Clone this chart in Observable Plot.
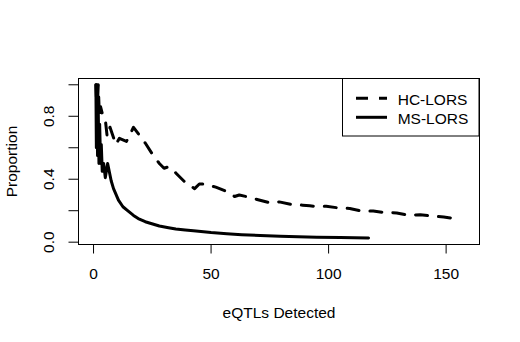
<!DOCTYPE html>
<html>
<head>
<meta charset="utf-8">
<script src="https://cdn.jsdelivr.net/npm/d3@7"></script>
<script src="https://cdn.jsdelivr.net/npm/@observablehq/plot@0.6"></script>
<style>
  html, body { margin: 0; padding: 0; background: #fff; }
  #chart { width: 520px; height: 342px; }
</style>
</head>
<body>
<div id="chart"></div>
<script>
// ---- data ----
const seriesNames = ["HC-LORS", "MS-LORS"];

const hcX = [1, 1.5, 2, 2.5, 3, 4, 5, 5.8, 7, 9.5, 11, 14, 17, 20, 22, 25, 28, 30, 32, 35, 39, 43, 45, 47, 52, 57, 60, 62, 65, 70, 75, 79, 84, 89, 92, 94, 99, 104, 109, 114, 119, 124, 129, 134, 139, 144, 149, 155];
const hcY = [1.0, 0.82, 1.0, 0.8, 0.86, 0.8, 0.78, 0.67, 0.73, 0.62, 0.66, 0.64, 0.73, 0.67, 0.63, 0.56, 0.5, 0.47, 0.48, 0.44, 0.38, 0.34, 0.37, 0.37, 0.35, 0.32, 0.29, 0.3, 0.29, 0.27, 0.25, 0.256, 0.24, 0.235, 0.232, 0.228, 0.228, 0.218, 0.214, 0.198, 0.198, 0.188, 0.186, 0.171, 0.175, 0.166, 0.16, 0.148];

const msX = [1, 1.2, 1.4, 1.7, 2, 2.3, 2.6, 3, 3.3, 3.7, 4.3, 5, 6, 7.5, 8.5, 10.6, 12.5, 14.5, 17, 19, 22, 24.8, 28, 31.9, 35, 39, 42.5, 50, 56.7, 63, 70.9, 79.4, 87, 95, 105, 117];
const msY = [1.0, 0.6, 1.0, 0.55, 0.85, 0.5, 0.75, 0.5, 0.62, 0.45, 0.5, 0.41, 0.5, 0.39, 0.34, 0.267, 0.225, 0.2, 0.17, 0.15, 0.13, 0.117, 0.103, 0.092, 0.084, 0.077, 0.072, 0.061, 0.054, 0.048, 0.043, 0.038, 0.034, 0.031, 0.029, 0.027];

const xTicks = [0, 50, 100, 150];
const yTicks = [0, 0.2, 0.4, 0.6, 0.8, 1.0];
const yLabelTicks = [0, 0.4, 0.8];
const xTitle = "eQTLs Detected";
const yTitle = "Proportion";

// ---- build tables ----
const hc = hcX.map((x, i) => ({x, y: hcY[i]}));
const ms = msX.map((x, i) => ({x, y: msY[i]}));

const FONT = "'Liberation Sans', Arial, sans-serif";
const FS = 15.5;

const chart = Plot.plot({
  width: 520,
  height: 342,
  marginLeft: 78,
  marginRight: 41,
  marginTop: 78,
  marginBottom: 98,
  x: {domain: [-6.4, 164.2]},
  y: {domain: [-0.0147, 1.04]},
  style: {fontFamily: FONT, fontSize: FS + "px", color: "#000", background: "#fff"},
  marks: [
    Plot.axisX({ticks: xTicks, tickSize: 9.5, tickFormat: () => "", label: null, stroke: "#000", strokeWidth: 1}),
    Plot.axisY({ticks: yTicks, tickSize: 9.5, tickFormat: () => "", label: null, stroke: "#000", strokeWidth: 1}),
    Plot.text(xTicks, {x: d => d, text: d => String(d), frameAnchor: "bottom", dy: 29.7, lineAnchor: "middle", fill: "#000", fontSize: FS}),
    Plot.text(yLabelTicks, {y: d => d, text: d => d.toFixed(1), frameAnchor: "left", dx: -29, rotate: -90, textAnchor: "middle", lineAnchor: "middle", fill: "#000", fontSize: FS}),
    Plot.text([xTitle], {text: d => d, frameAnchor: "bottom", dy: 68.3, lineAnchor: "middle", fill: "#000", fontSize: FS}),
    Plot.text([yTitle], {text: d => d, frameAnchor: "left", dx: -66, rotate: -90, textAnchor: "middle", lineAnchor: "middle", fill: "#000", fontSize: FS}),
    Plot.line(hc, {x: "x", y: "y", stroke: "#000", strokeWidth: 3, strokeDasharray: "12,11", strokeLinejoin: "round"}),
    Plot.line(ms, {x: "x", y: "y", stroke: "#000", strokeWidth: 3, strokeLinejoin: "round", strokeLinecap: "round"}),
    Plot.frame({stroke: "#000", strokeWidth: 1})
  ]
});

document.getElementById("chart").appendChild(chart);

// ---- legend (top-right, inside the plot box) ----
const svgSel = d3.select(chart);
const frameRight = 520 - 41, frameTop = 78;
const lg = svgSel.append("g").attr("font-family", FONT).attr("font-size", FS + "px").attr("text-anchor", "start");
lg.append("rect")
  .attr("x", 342.5).attr("y", frameTop + 0.5)
  .attr("width", frameRight - 342.5).attr("height", 57.5)
  .attr("fill", "#fff").attr("stroke", "#000").attr("stroke-width", 1);
const legendRows = [
  {name: seriesNames[0], dash: "12,11", y: 98.3, base: 105},
  {name: seriesNames[1], dash: null, y: 117.3, base: 124}
];
legendRows.forEach(r => {
  const l = lg.append("line")
    .attr("x1", 356).attr("x2", 387).attr("y1", r.y).attr("y2", r.y)
    .attr("stroke", "#000").attr("stroke-width", 3);
  if (r.dash) l.attr("stroke-dasharray", r.dash);
  lg.append("text").attr("x", 397.7).attr("y", r.base).attr("fill", "#000").attr("text-anchor", "start").text(r.name);
});
</script>
</body>
</html>
